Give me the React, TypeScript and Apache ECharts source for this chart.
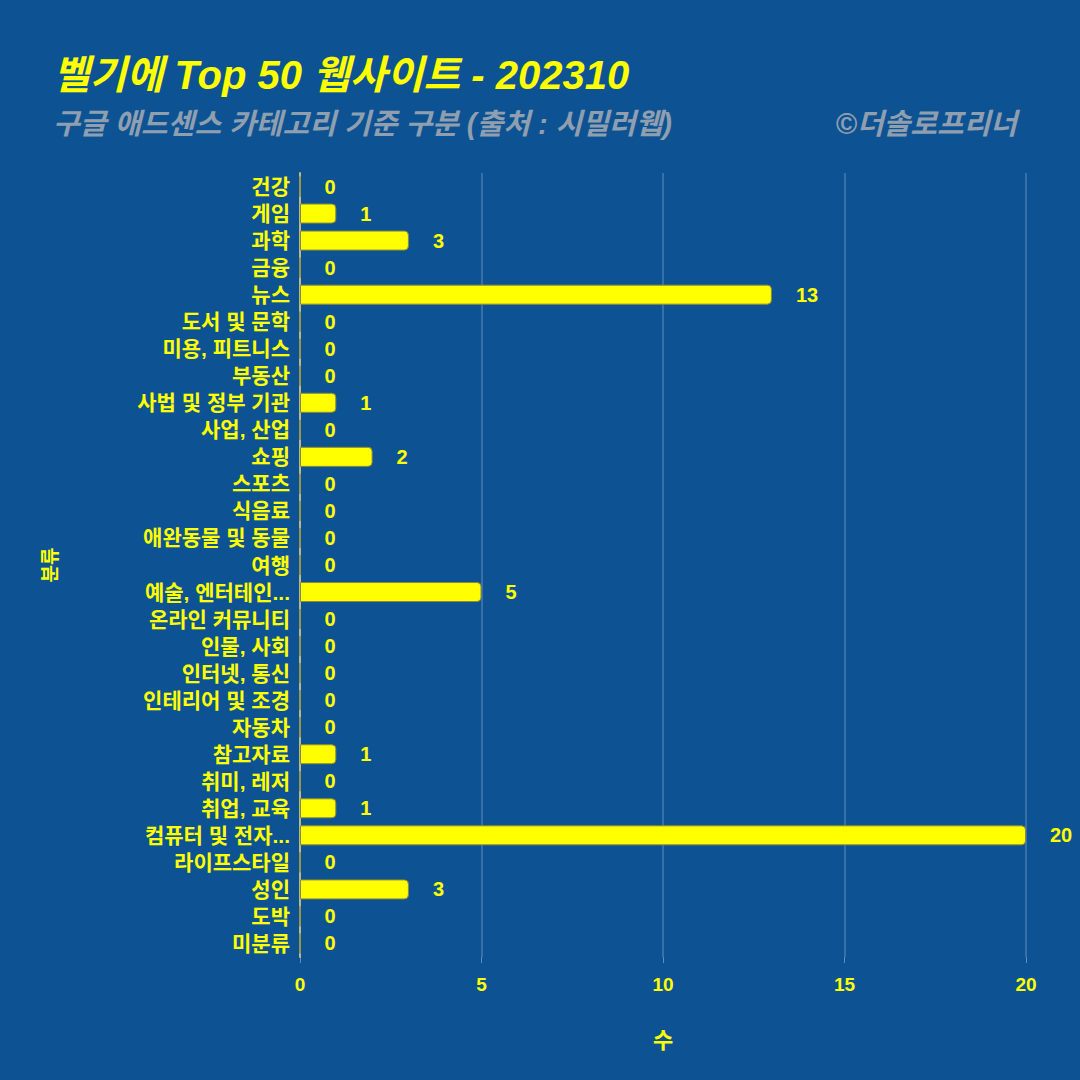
import React, { useEffect, useRef } from "react";
import * as echarts from "echarts";

const categories = [
  "건강", "게임", "과학", "금융", "뉴스", "도서 및 문학", "미용, 피트니스", "부동산",
  "사법 및 정부 기관", "사업, 산업", "쇼핑", "스포츠", "식음료", "애완동물 및 동물", "여행",
  "예술, 엔터테인...", "온라인 커뮤니티", "인물, 사회", "인터넷, 통신", "인테리어 및 조경",
  "자동차", "참고자료", "취미, 레저", "취업, 교육", "컴퓨터 및 전자...", "라이프스타일",
  "성인", "도박", "미분류",
];
const counts = [0, 1, 3, 0, 13, 0, 0, 0, 1, 0, 2, 0, 0, 0, 0, 5, 0, 0, 0, 0, 0, 1, 0, 1, 20, 0, 3, 0, 0];
const xTicks = [0, 5, 10, 15, 20];

const titleText = "벨기에 Top 50 웹사이트 - 202310";
const subtitleText = "구글 애드센스 카테고리 기준 구분 (출처 : 시밀러웹)";
const creditText = "©더솔로프리너";

const FONT = "'Liberation Sans', Arial, 'Noto Sans CJK KR', sans-serif";
const YELLOW = "#ffff00";
const BG = "#0d5394";
const GREY = "#8f9fb0";

export default function App() {
  const ref = useRef<HTMLDivElement>(null);
  useEffect(() => {
    if (!ref.current) return;
    const chart = echarts.init(ref.current, null, { renderer: "svg" });
    chart.setOption({
      animation: false,
      backgroundColor: BG,
      textStyle: { fontFamily: FONT },
      title: [
        {
          text: titleText,
          left: 48,
          top: 50,
          textStyle: { color: YELLOW, fontSize: 40, fontWeight: "bold", fontStyle: "italic", fontFamily: FONT },
        },
        {
          text: subtitleText,
          left: 48,
          top: 104,
          textStyle: { color: GREY, fontSize: 29, fontWeight: "bold", fontStyle: "italic", fontFamily: FONT },
        },
        {
          text: creditText,
          right: 58,
          top: 104,
          textStyle: { color: GREY, fontSize: 29, fontWeight: "bold", fontStyle: "italic", fontFamily: FONT },
        },
      ],
      grid: { left: 300, right: 54, top: 173, bottom: 123, containLabel: false },
      xAxis: {
        type: "value",
        min: 0,
        max: 20,
        interval: 5,
        name: "수",
        nameLocation: "middle",
        nameGap: 72,
        nameTextStyle: { color: YELLOW, fontSize: 22, fontWeight: "bold", fontFamily: FONT },
        axisLine: { show: false },
        axisTick: { show: true, length: 6, lineStyle: { color: "rgba(180,200,230,0.5)" } },
        axisLabel: {
          color: YELLOW,
          fontSize: 19,
          fontWeight: "bold",
          margin: 18,
          fontFamily: FONT,
          formatter: (v: number) => (xTicks.includes(v) ? String(v) : ""),
        },
        splitLine: { show: true, lineStyle: { color: "rgba(180,200,230,0.35)", width: 1.5 } },
      },
      yAxis: {
        type: "category",
        data: categories,
        inverse: true,
        name: "분류",
        nameLocation: "middle",
        nameGap: 240,
        nameRotate: 90,
        nameTextStyle: { color: YELLOW, fontSize: 19, fontWeight: "bold", fontFamily: FONT },
        axisLine: { show: true, lineStyle: { color: "#b8b88a", width: 2 } },
        axisTick: { show: false },
        axisLabel: {
          color: YELLOW,
          fontSize: 21,
          fontWeight: "bold",
          margin: 10,
          interval: 0,
          hideOverlap: false,
          lineHeight: 21,
          fontFamily: FONT,
        },
        splitLine: { show: false },
      },
      series: [
        {
          type: "bar",
          data: counts,
          barWidth: "74%",
          itemStyle: {
            color: YELLOW,
            borderColor: "#8a8a3a",
            borderWidth: 1,
            borderRadius: [0, 4, 4, 0],
          },
          label: {
            show: true,
            position: "right",
            distance: 24,
            color: YELLOW,
            fontSize: 20,
            fontWeight: "bold",
            fontFamily: FONT,
          },
        },
      ],
    });
    return () => chart.dispose();
  }, []);
  return (
    <div
      ref={ref}
      style={{ width: 1080, height: 1080, position: "absolute", left: 0, top: 0 }}
    />
  );
}
